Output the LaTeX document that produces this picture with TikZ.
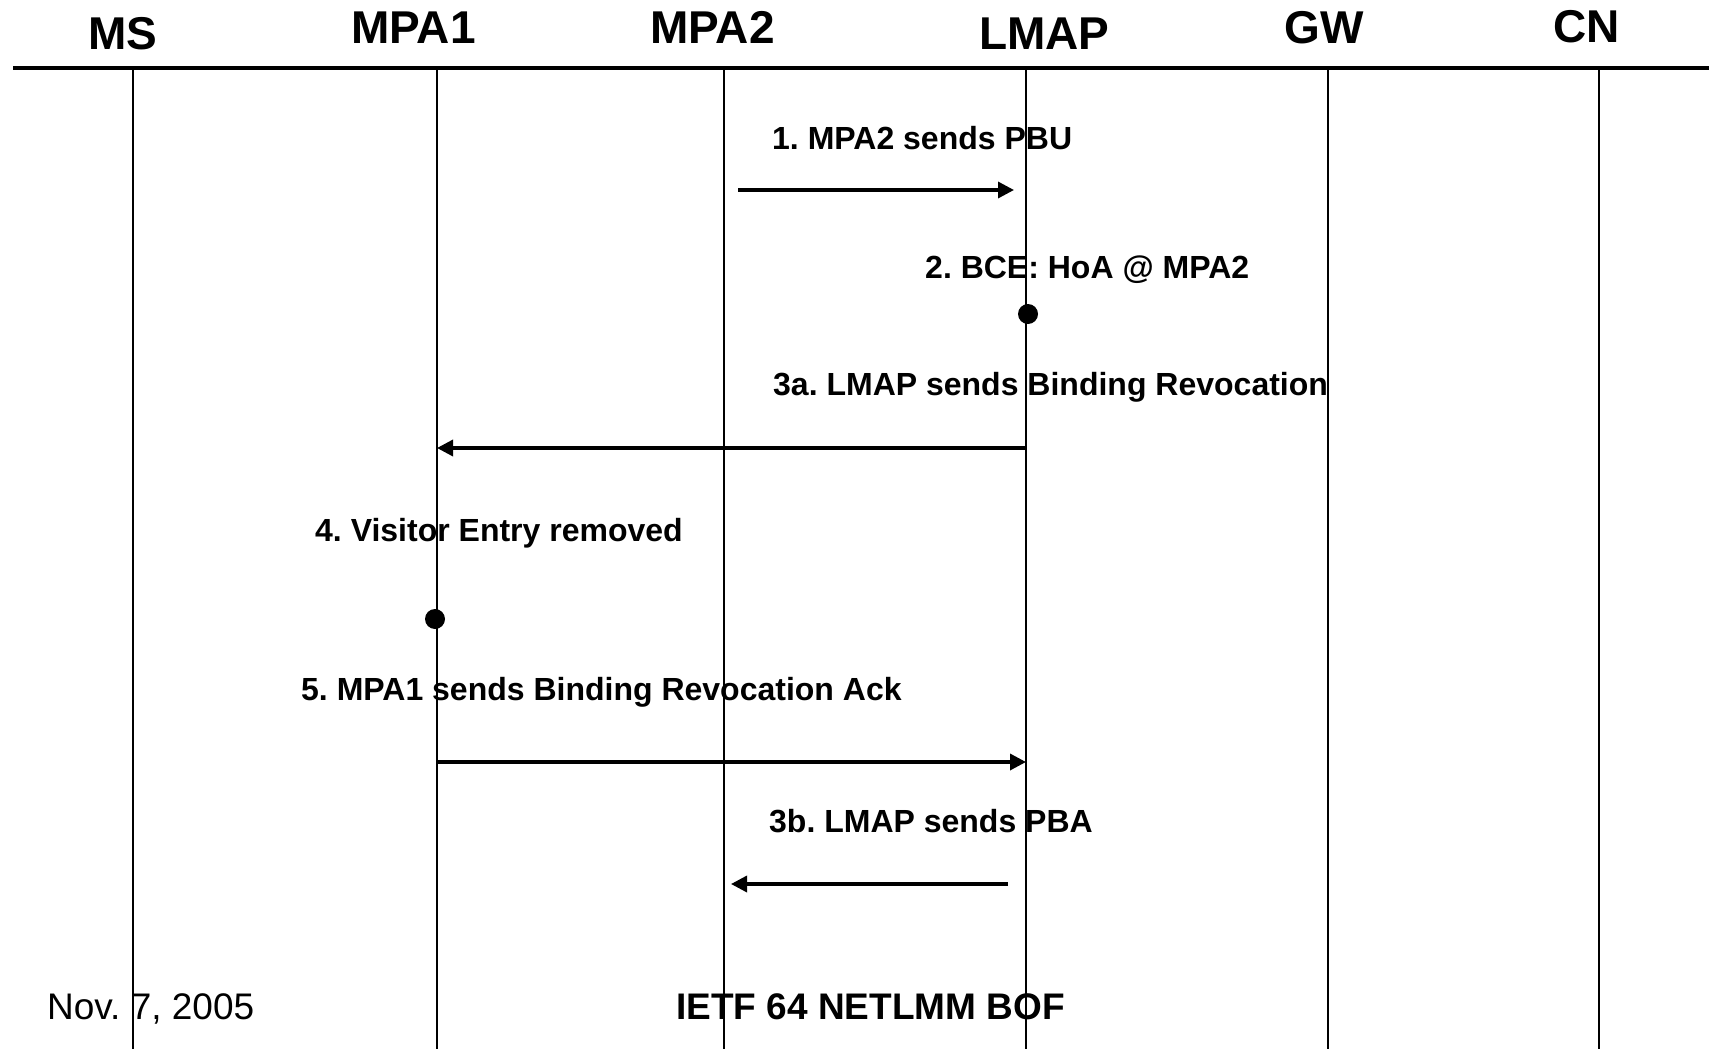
\documentclass[tikz,border=0pt]{standalone}
\usepackage{fontspec}
\setmainfont{Liberation Sans}
\frenchspacing
\usetikzlibrary{arrows.meta, calc}
\tikzset{
    seqbase/.style={x=1pt, y=-1pt, line join=miter},
    entity/.style={anchor=base west, inner sep=0pt, font=\fontsize{46}{50}\selectfont\bfseries},
    msglabel/.style={anchor=base west, inner sep=0pt, font=\fontsize{32}{36}\selectfont\bfseries},
    footlabel/.style={anchor=base west, inner sep=0pt, font=\fontsize{37}{40}\selectfont},
    lifeline/.style={draw, line width=1.6pt},
    headline/.style={draw, line width=4pt},
    msg/.style={draw, line width=3.4pt, -{Triangle[length=16pt, width=16pt]}},
    event/.style={circle, fill, inner sep=0pt, minimum size=20pt},
}
\begin{document}
\begin{tikzpicture}[seqbase]
\useasboundingbox (0,0) rectangle (1709,1049);

% ===================== HEADER =====================
\node[entity] (h_ms) at (88,49.5) {MS};
\node[entity] (h_mpa1) at (351,43.5) {MPA1};
\node[entity] (h_mpa2) at (650,43.5) {MPA2};
\node[entity] (h_lmap) at (979,49.5) {LMAP};
\node[entity] (h_gw) at (1284,43.5) {GW};
\node[entity] (h_cn) at (1553,42.5) {CN};

\coordinate (top_left) at (13,67.6);
\coordinate (top_right) at (1709,67.6);
\draw[headline] (top_left) -- (top_right);

% lifelines
\foreach \name/\x in {ms/133, mpa1/437, mpa2/724, lmap/1026, gw/1328, cn/1599} {
    \coordinate (\name_top) at (\x,67.6);
    \coordinate (\name_bot) at (\x,1049);
    \draw[lifeline] (\name_top) -- (\name_bot);
}

% ===================== MESSAGES =====================
\node[msglabel] (m1_lbl) at (772,149.5) {1. MPA2 sends PBU};
\draw[msg, shorten <=14pt, shorten >=12pt] (mpa2_top |- 0,190) -- (lmap_top |- 0,190);

\node[msglabel] (m2_lbl) at (925,278.5) {2. BCE: HoA @ MPA2};
\node[event] (m2_dot) at (1028,314) {};

\node[msglabel] (m3a_lbl) at (773,395.5) {3a. LMAP sends Binding Revocation};
\draw[msg] (lmap_top |- 0,448) -- (mpa1_top |- 0,448);

\node[msglabel] (m4_lbl) at (315,541.5) {4. Visitor Entry removed};
\node[event] (m4_dot) at (435,619) {};

\node[msglabel] (m5_lbl) at (301,700.5) {5. MPA1 sends Binding Revocation Ack};
\draw[msg] (mpa1_top |- 0,762) -- (lmap_top |- 0,762);

\node[msglabel] (m3b_lbl) at (769,832.5) {3b. LMAP sends PBA};
\draw[msg, shorten <=18pt, shorten >=7pt] (lmap_top |- 0,884) -- (mpa2_top |- 0,884);

% ===================== FOOTER =====================
\node[footlabel] (f_date) at (47,1019) {Nov. 7, 2005};
\node[footlabel, font=\fontsize{37}{40}\selectfont\bfseries] (f_title) at (676,1019) {IETF 64 NETLMM BOF};

\end{tikzpicture}
\end{document}
